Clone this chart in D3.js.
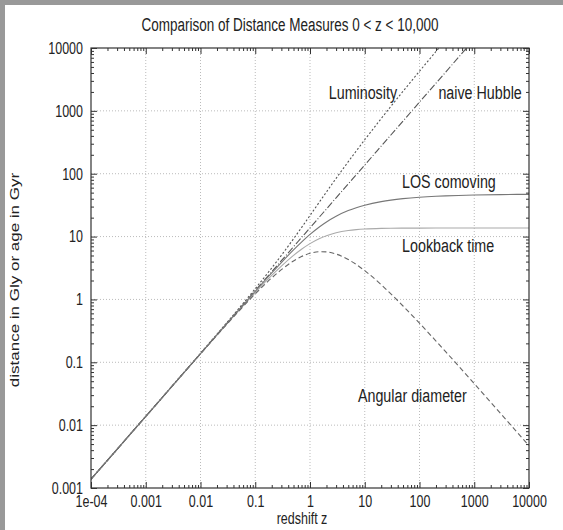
<!DOCTYPE html>
<html>
<head>
<meta charset="utf-8">
<script src="https://cdn.jsdelivr.net/npm/d3@7"></script>
<style>
  body { margin: 0; background: #fff; }
  svg { display: block; font-family: "Liberation Sans", Arial, sans-serif; }
  /* the original picture is stretched vertically, letters look tall */
  svg text { transform-box: fill-box; transform-origin: center; transform: scaleY(1.3); }
  svg text.ylab { transform: scaleX(1.36); }
</style>
</head>
<body>
<svg id="chart" width="563" height="530"></svg>
<script>
// redshift samples
const zValues = [1e-4, 1e-3, 0.01, 0.03, 0.1, 0.2, 0.3, 0.5, 0.7, 1, 1.5, 2, 3, 5, 7, 10, 20, 30, 50, 100, 200, 300, 1000, 3000, 10000];

// distances in Gly, ages in Gyr
const losComoving = [0.00138, 0.0138, 0.137, 0.411, 1.349, 2.638, 3.866, 6.137, 8.17, 10.82, 14.36, 17.1, 21.07, 25.88, 28.78, 31.54, 35.95, 38.0, 40.1, 42.25, 43.78, 44.46, 45.85, 46.55, 47.0];
const luminosity = [0.00138, 0.0138, 0.1388, 0.423, 1.484, 3.166, 5.026, 9.206, 13.89, 21.64, 35.9, 51.3, 84.3, 155.3, 230.2, 346.9, 755, 1178, 2045, 4267, 8800, 13380, null, null, null];
const angularDiameter = [0.00138, 0.01376, 0.136, 0.3986, 1.226, 2.198, 2.974, 4.091, 4.806, 5.41, 5.744, 5.70, 5.27, 4.313, 3.598, 2.867, 1.712, 1.226, 0.786, 0.4183, 0.2178, 0.1477, 0.0458, 0.0155, 0.0047];
const lookbackTime = [0.00138, 0.0137, 0.1367, 0.4044, 1.286, 2.408, 3.391, 5.018, 6.292, 7.73, 9.32, 10.32, 11.48, 12.47, 12.89, 13.19, 13.49, 13.57, 13.62, 13.65, 13.66, 13.67, 13.67, 13.67, 13.67];
const naiveHubble = [0.00138, 0.0138, 0.138, 0.413, 1.377, 2.754, 4.131, 6.885, 9.64, 13.77, 20.66, 27.54, 41.31, 68.85, 96.4, 137.7, 275.4, 413.1, 688.5, 1377, 2754, 4131, 13770, null, null];

const xTickValues = [1e-4, 1e-3, 0.01, 0.1, 1, 10, 100, 1000, 10000];
const xTickLabels = ["1e-04", "0.001", "0.01", "0.1", "1", "10", "100", "1000", "10000"];
const yTickValues = [0.001, 0.01, 0.1, 1, 10, 100, 1000, 10000];
const yTickLabels = ["0.001", "0.01", "0.1", "1", "10", "100", "1000", "10000"];

const curveLabels = [
  {text: "Luminosity", z: 2.2, v: 1900, anchor: "start"},
  {text: "naive Hubble", z: 7400, v: 1900, anchor: "end"},
  {text: "LOS comoving", z: 48, v: 71, anchor: "start"},
  {text: "Lookback time", z: 48, v: 6.8, anchor: "start"},
  {text: "Angular diameter", z: 7.5, v: 0.028, anchor: "start"}
];

const svg = d3.select("#chart");
const W = 563, H = 530;
const pLeft = 91, pRight = 529, pTop = 48, pBottom = 488;

// gray strip on top and left like the original picture
svg.append("rect").attr("x", 0).attr("y", 0).attr("width", W).attr("height", 5).attr("fill", "#999");
svg.append("rect").attr("x", 0).attr("y", 0).attr("width", 5).attr("height", H).attr("fill", "#999");

const x = d3.scaleLog().domain([1e-4, 1e4]).range([pLeft, pRight]);
const y = d3.scaleLog().domain([1e-3, 1e4]).range([pBottom, pTop]);

// minor tick values 2..9 of every decade
function minors(lo, hi) {
  let out = [];
  for (let e = lo; e < hi; e++) {
    for (let m = 2; m <= 9; m++) out.push(m * Math.pow(10, e));
  }
  return out;
}
const xMinor = minors(-4, 4);
const yMinor = minors(-3, 4);

// grid
const grid = svg.append("g").attr("stroke", "#bbb").attr("stroke-dasharray", "1,2").attr("stroke-width", 1);
xTickValues.slice(1, -1).forEach(v => {
  grid.append("line").attr("x1", x(v)).attr("x2", x(v)).attr("y1", pTop).attr("y2", pBottom);
});
yTickValues.slice(1, -1).forEach(v => {
  grid.append("line").attr("x1", pLeft).attr("x2", pRight).attr("y1", y(v)).attr("y2", y(v));
});

svg.append("clipPath").attr("id", "plotclip")
  .append("rect").attr("x", pLeft).attr("y", pTop).attr("width", pRight - pLeft).attr("height", pBottom - pTop);

const line = vals => d3.line()
  .defined((d, i) => vals[i] != null)
  .x((d, i) => x(zValues[i]))
  .y((d, i) => y(vals[i]))
  .curve(d3.curveMonotoneX)(zValues);

const series = [
  {vals: lookbackTime, stroke: "#aaa", dash: null},
  {vals: angularDiameter, stroke: "#666", dash: "5,3"},
  {vals: luminosity, stroke: "#555", dash: "2,2"},
  {vals: naiveHubble, stroke: "#555", dash: "7,2,1,2"},
  {vals: losComoving, stroke: "#777", dash: null}
];
const plot = svg.append("g").attr("clip-path", "url(#plotclip)");
series.forEach(s => {
  plot.append("path").attr("d", line(s.vals))
    .attr("fill", "none").attr("stroke", s.stroke).attr("stroke-width", 1.1)
    .attr("stroke-dasharray", s.dash);
});

// axes with inward ticks, mirrored on all sides
function drawAxis(axisFn, scale, tr, vals, size, labels) {
  const a = axisFn(scale).tickValues(vals).tickSizeInner(size).tickSizeOuter(0)
    .tickFormat(labels ? (d, i) => labels[i] : "");
  const g = svg.append("g").attr("transform", tr).call(a);
  g.select(".domain").remove();
  g.selectAll("line").attr("stroke", "#333");
  g.selectAll("text").attr("fill", "#222").style("font-size", "12.5px");
  return g;
}
const gx = drawAxis(d3.axisBottom, x, `translate(0,${pBottom})`, xTickValues, -6, xTickLabels);
gx.selectAll("text").attr("y", 9);
drawAxis(d3.axisBottom, x, `translate(0,${pBottom})`, xMinor, -3, null);
drawAxis(d3.axisTop, x, `translate(0,${pTop})`, xTickValues, -6, null);
drawAxis(d3.axisTop, x, `translate(0,${pTop})`, xMinor, -3, null);
const gy = drawAxis(d3.axisLeft, y, `translate(${pLeft},0)`, yTickValues, -6, yTickLabels);
gy.selectAll("text").attr("x", -8);
drawAxis(d3.axisLeft, y, `translate(${pLeft},0)`, yMinor, -3, null);
drawAxis(d3.axisRight, y, `translate(${pRight},0)`, yTickValues, -6, null);
drawAxis(d3.axisRight, y, `translate(${pRight},0)`, yMinor, -3, null);

svg.append("rect").attr("x", pLeft).attr("y", pTop).attr("width", pRight - pLeft).attr("height", pBottom - pTop)
  .attr("fill", "none").attr("stroke", "#333").attr("stroke-width", 1.2);

// curve labels
svg.append("g").selectAll("text").data(curveLabels).join("text")
  .attr("x", d => x(d.z)).attr("y", d => y(d.v))
  .attr("text-anchor", d => d.anchor)
  .attr("dominant-baseline", "middle")
  .attr("fill", "#222").style("font-size", "14.3px")
  .text(d => d.text);

// titles
svg.append("text").attr("x", 290).attr("y", 30).attr("text-anchor", "middle")
  .attr("fill", "#222").style("font-size", "13.5px")
  .text("Comparison of Distance Measures 0 < z < 10,000");
svg.append("text").attr("x", 302).attr("y", 523).attr("text-anchor", "middle")
  .attr("fill", "#222").style("font-size", "12.5px").text("redshift z");
svg.append("g").attr("transform", "translate(19,280) rotate(-90)")
  .append("text").attr("class", "ylab")
  .attr("text-anchor", "middle").attr("fill", "#222").style("font-size", "12.5px")
  .text("distance in Gly or age in Gyr");
</script>
</body>
</html>
